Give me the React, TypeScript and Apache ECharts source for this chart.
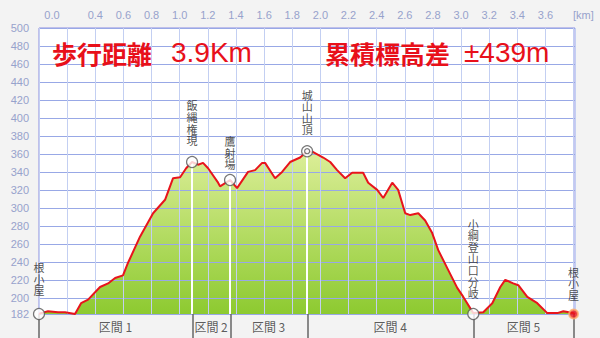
import React, { useEffect, useRef } from "react";
import * as echarts from "echarts";

const profileKm = [0, 0.014, 0.064, 0.135, 0.185, 0.256, 0.299, 0.349, 0.434, 0.491, 0.541, 0.597, 0.633, 0.718, 0.811, 0.896, 0.953, 1.003, 1.046, 1.088, 1.131, 1.166, 1.202, 1.273, 1.287, 1.358, 1.408, 1.486, 1.536, 1.586, 1.607, 1.678, 1.728, 1.785, 1.856, 1.906, 1.949, 2.02, 2.07, 2.119, 2.176, 2.226, 2.304, 2.34, 2.404, 2.447, 2.511, 2.553, 2.603, 2.639, 2.696, 2.745, 2.795, 2.838, 2.902, 2.973, 3.016, 3.087, 3.158, 3.222, 3.279, 3.314, 3.371, 3.407, 3.471, 3.542, 3.613, 3.684, 3.727, 3.798, 3.81];
const profileElev = [182, 183, 185, 184, 184, 182, 194, 198, 212, 216, 222, 225, 239, 268, 294, 309, 333, 334, 344, 351, 348, 350, 344, 328, 324, 331, 322, 340, 342, 350, 350, 333, 340, 351, 356, 363, 362, 356, 351, 342, 333, 339, 339, 328, 320, 311, 328, 320, 294, 292, 294, 286, 272, 253, 233, 211, 201, 183, 184, 194, 212, 220, 216, 214, 201, 194, 183, 183, 185, 183, 182];

const waypointNames = ["根小屋", "飯縄権現", "鷹射場", "城山山頂", "小綱登山口分岐", "根小屋"];
const waypointKm = [0, 1.088, 1.358, 1.906, 3.087, 3.8];
const waypointElev = [182, 351, 331, 363, 182, 182];
const waypointLabelGap = [12, 10, 4, 10, 9, 8];

const sectionNames = ["区間 1", "区間 2", "区間 3", "区間 4", "区間 5"];
const sectionBounds = [0, 1.088, 1.358, 1.906, 3.087, 3.8];

const yTickValues = [182, 200, 220, 240, 260, 280, 300, 320, 340, 360, 380, 400, 420, 440, 460, 480, 500];

const titleDistance = "歩行距離";
const titleDistanceValue = "3.9Km";
const titleClimb = "累積標高差";
const titleClimbValue = "±439m";

const X_MIN = 0;
const X_MAX = 3.81;
const Y_MIN = 182;
const Y_MAX = 500;

export default function App() {
  const ref = useRef<HTMLDivElement>(null);
  useEffect(() => {
    if (!ref.current) return;
    const chart = echarts.init(ref.current, null, { renderer: "svg" });
    const labelColor = "#97a2cc";
    const jp = "'Noto Sans CJK JP', sans-serif";
    const lat = "'Liberation Sans', sans-serif";

    const profile = profileKm.map((k, i) => [k, profileElev[i]]);

    const waypointData = waypointNames.map((n, i) => {
      const isEnd = i === waypointNames.length - 1;
      return {
        value: [waypointKm[i], waypointElev[i]],
        name: n,
        symbolSize: isEnd ? 9 : 11,
        itemStyle: isEnd
          ? { color: "#e8141c", borderColor: "#ffb070", borderWidth: 2 }
          : { color: "#ffffff", borderColor: "#555555", borderWidth: 1.2 },
        label: {
          show: true,
          position: "top",
          distance: waypointLabelGap[i],
          formatter: n.split("").join("\n"),
          fontFamily: jp,
          fontSize: 11,
          lineHeight: 11.6,
          color: "#222222",
        },
      };
    });

    const dropLines = waypointNames
      .map((n, i) => i)
      .filter((i) => waypointElev[i] > Y_MIN + 5)
      .map((i) => [
        { coord: [waypointKm[i], waypointElev[i]] },
        { coord: [waypointKm[i], Y_MIN] },
      ]);

    const sectionLabelData = sectionNames.map((s, i) => ({
      value: [(sectionBounds[i] + sectionBounds[i + 1]) / 2, 0.5],
      name: s,
    }));

    const option: any = {
      animation: false,
      backgroundColor: "#f3f3f3",
      grid: [
        { left: 39, right: 25, top: 28, bottom: 24, show: true, backgroundColor: "#ffffff", borderColor: "#8c8ce0", borderWidth: 1 },
        { left: 39, right: 25, top: 314, bottom: 0 },
      ],
      xAxis: [
        {
          type: "value",
          gridIndex: 0,
          position: "top",
          min: X_MIN,
          max: X_MAX,
          interval: 0.2,
          z: 3,
          axisLine: { show: false },
          axisTick: { show: false },
          splitLine: { show: true, lineStyle: { color: "#c3cff2", width: 1 } },
          axisLabel: {
            margin: 8,
            color: labelColor,
            fontSize: 11,
            fontFamily: lat,
            showMaxLabel: false,
            formatter: (v: number) => {
              const r = Math.round(v * 10) / 10;
              if (r === 0) return "{z|0.0}";
              if (Math.abs(r - 0.2) < 1e-6) return "";
              if (r > 3.7) return "";
              return r.toFixed(1);
            },
            rich: { z: { padding: [0, 0, 0, 26], color: labelColor, fontSize: 11, fontFamily: lat } },
          },
        },
        { type: "value", gridIndex: 1, min: X_MIN, max: X_MAX, show: false },
      ],
      yAxis: [
        {
          type: "value",
          gridIndex: 0,
          min: Y_MIN,
          max: Y_MAX,
          z: 3,
          axisLine: { show: false },
          axisTick: { show: false, customValues: yTickValues },
          splitLine: { show: true, lineStyle: { color: "#98a8e6", width: 1 } },
          axisLabel: {
            customValues: yTickValues,
            margin: 10,
            color: labelColor,
            fontSize: 11,
            fontFamily: lat,
          },
        },
        { type: "value", gridIndex: 1, min: 0, max: 1, show: false },
      ],
      series: [
        {
          type: "line",
          name: "area",
          xAxisIndex: 0,
          yAxisIndex: 0,
          data: profile,
          z: 1,
          symbol: "none",
          lineStyle: { width: 0 },
          areaStyle: {
            opacity: 1,
            color: new echarts.graphic.LinearGradient(0, 0, 0, 1, [
              { offset: 0, color: "#dcee98" },
              { offset: 1, color: "#8dca30" },
            ]),
          },
          markLine: {
            silent: true,
            symbol: ["none", "none"],
            label: { show: false },
            lineStyle: { color: "#ffffff", width: 2, type: "solid" },
            data: dropLines,
          },
        },
        {
          type: "line",
          name: "profile",
          xAxisIndex: 0,
          yAxisIndex: 0,
          data: profile,
          z: 5,
          symbol: "none",
          lineStyle: { color: "#e8141c", width: 2 },
        },
        {
          type: "scatter",
          xAxisIndex: 0,
          yAxisIndex: 0,
          z: 6,
          symbol: "circle",
          data: waypointData,
        },
        {
          type: "scatter",
          xAxisIndex: 0,
          yAxisIndex: 0,
          z: 7,
          symbol: "circle",
          symbolSize: 5,
          itemStyle: { color: "#ffffff", borderColor: "#555555", borderWidth: 1.2 },
          data: [[waypointKm[3], waypointElev[3]]],
        },
        {
          type: "scatter",
          xAxisIndex: 1,
          yAxisIndex: 1,
          symbolSize: 0,
          data: sectionLabelData,
          label: {
            show: true,
            position: "inside",
            formatter: (p: any) => p.name,
            fontFamily: jp,
            fontSize: 12,
            color: "#333333",
          },
          markLine: {
            silent: true,
            symbol: ["none", "none"],
            label: { show: false },
            lineStyle: { color: "#666666", width: 1.5, type: "solid" },
            data: sectionBounds.map((b) => ({ xAxis: b })),
          },
        },
      ],
      graphic: [
        { type: "text", left: 52, top: 40, z: 10, style: { text: titleDistance, fontFamily: jp, fontSize: 25, fontWeight: "bold", fill: "#e8101a" } },
        { type: "text", left: 171, top: 38, z: 10, style: { text: titleDistanceValue, fontFamily: lat, fontSize: 28, fill: "#e8101a" } },
        { type: "text", left: 325, top: 40, z: 10, style: { text: titleClimb, fontFamily: jp, fontSize: 25, fontWeight: "bold", fill: "#e8101a" } },
        { type: "text", left: 464, top: 38, z: 10, style: { text: titleClimbValue, fontFamily: lat, fontSize: 28, fill: "#e8101a" } },
        { type: "text", left: 573, top: 9, z: 10, style: { text: "[km]", fontFamily: lat, fontSize: 11, fill: labelColor } },
      ],
    };
    chart.setOption(option);
    return () => chart.dispose();
  }, []);
  return <div ref={ref} style={{ position: "absolute", left: 0, top: 0, width: 600, height: 338 }} />;
}
